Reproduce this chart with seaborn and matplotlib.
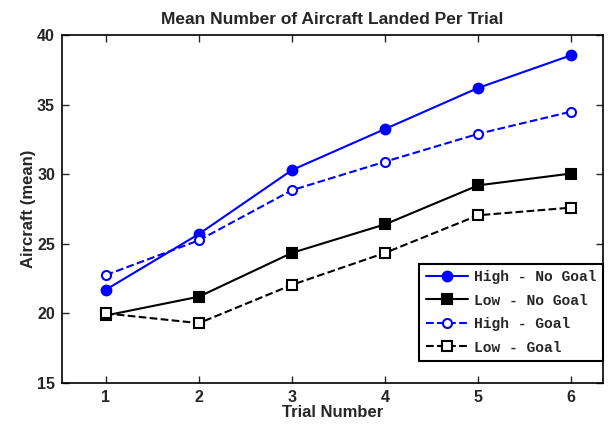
import numpy as np
import pandas as pd
import matplotlib
matplotlib.use('Agg')
import matplotlib.pyplot as plt
import seaborn as sns

# data
trials = [1, 2, 3, 4, 5, 6]
high_no_goal = [21.7, 25.7, 30.3, 33.25, 36.2, 38.55]
low_no_goal = [19.85, 21.2, 24.35, 26.4, 29.2, 30.05]
high_goal = [22.75, 25.25, 28.85, 30.9, 32.9, 34.5]
low_goal = [20.0, 19.3, 22.05, 24.35, 27.05, 27.6]
labels = ['High - No Goal', 'Low - No Goal', 'High - Goal', 'Low - Goal']

sns.set_style('ticks')
plt.rcParams['font.family'] = ['Liberation Sans', 'DejaVu Sans']

fig = plt.figure(figsize=(6.16, 4.28), dpi=100)
ax = fig.add_axes([62 / 616, 1 - 383 / 428, 541 / 616, 348 / 428])

series = [
    (high_no_goal, labels[0], 'blue', '-', 'o', 'blue', 7),
    (low_no_goal, labels[1], 'black', '-', 's', 'black', 7.5),
    (high_goal, labels[2], 'blue', '--', 'o', 'white', 6.5),
    (low_goal, labels[3], 'black', '--', 's', 'white', 6.5),
]
for vals, lab, col, ls, mk, fc, ms in series:
    df = pd.DataFrame({'trial': trials, 'aircraft': vals})
    sns.lineplot(data=df, x='trial', y='aircraft', ax=ax, color=col, linestyle=ls,
                 marker=mk, markerfacecolor=fc, markeredgecolor=col, markeredgewidth=1.5,
                 markersize=ms, linewidth=1.5, label=lab)

ax.set_xlim(0.53, 6.34)
ax.set_ylim(15, 40)
ax.set_xticks(trials)
ax.set_yticks([15, 20, 25, 30, 35, 40])
ax.tick_params(direction='in', top=True, right=True, length=5, width=1,
               labelsize=11.5, pad=5)
for t in ax.get_xticklabels() + ax.get_yticklabels():
    t.set_fontweight('bold')
for s in ax.spines.values():
    s.set_visible(True)
    s.set_linewidth(1.2)
    s.set_color('black')

ax.set_xlabel('Trial Number', fontsize=12, fontweight='bold', labelpad=0)
ax.set_ylabel('Aircraft (mean)', fontsize=12, fontweight='bold', labelpad=1)
ax.set_title('Mean Number of Aircraft Landed Per Trial', fontsize=12.5,
             fontweight='bold', pad=8)

leg = ax.legend(loc='lower right', bbox_to_anchor=(1.0, 0.063), fancybox=False,
                framealpha=1, edgecolor='black', handlelength=2.9, handletextpad=0.4,
                prop={'family': 'Liberation Mono', 'weight': 'bold', 'size': 10.5},
                borderpad=0.45, labelspacing=0.65, borderaxespad=0)
leg.get_frame().set_linewidth(1.5)

fig.savefig('out.png', dpi=100)
